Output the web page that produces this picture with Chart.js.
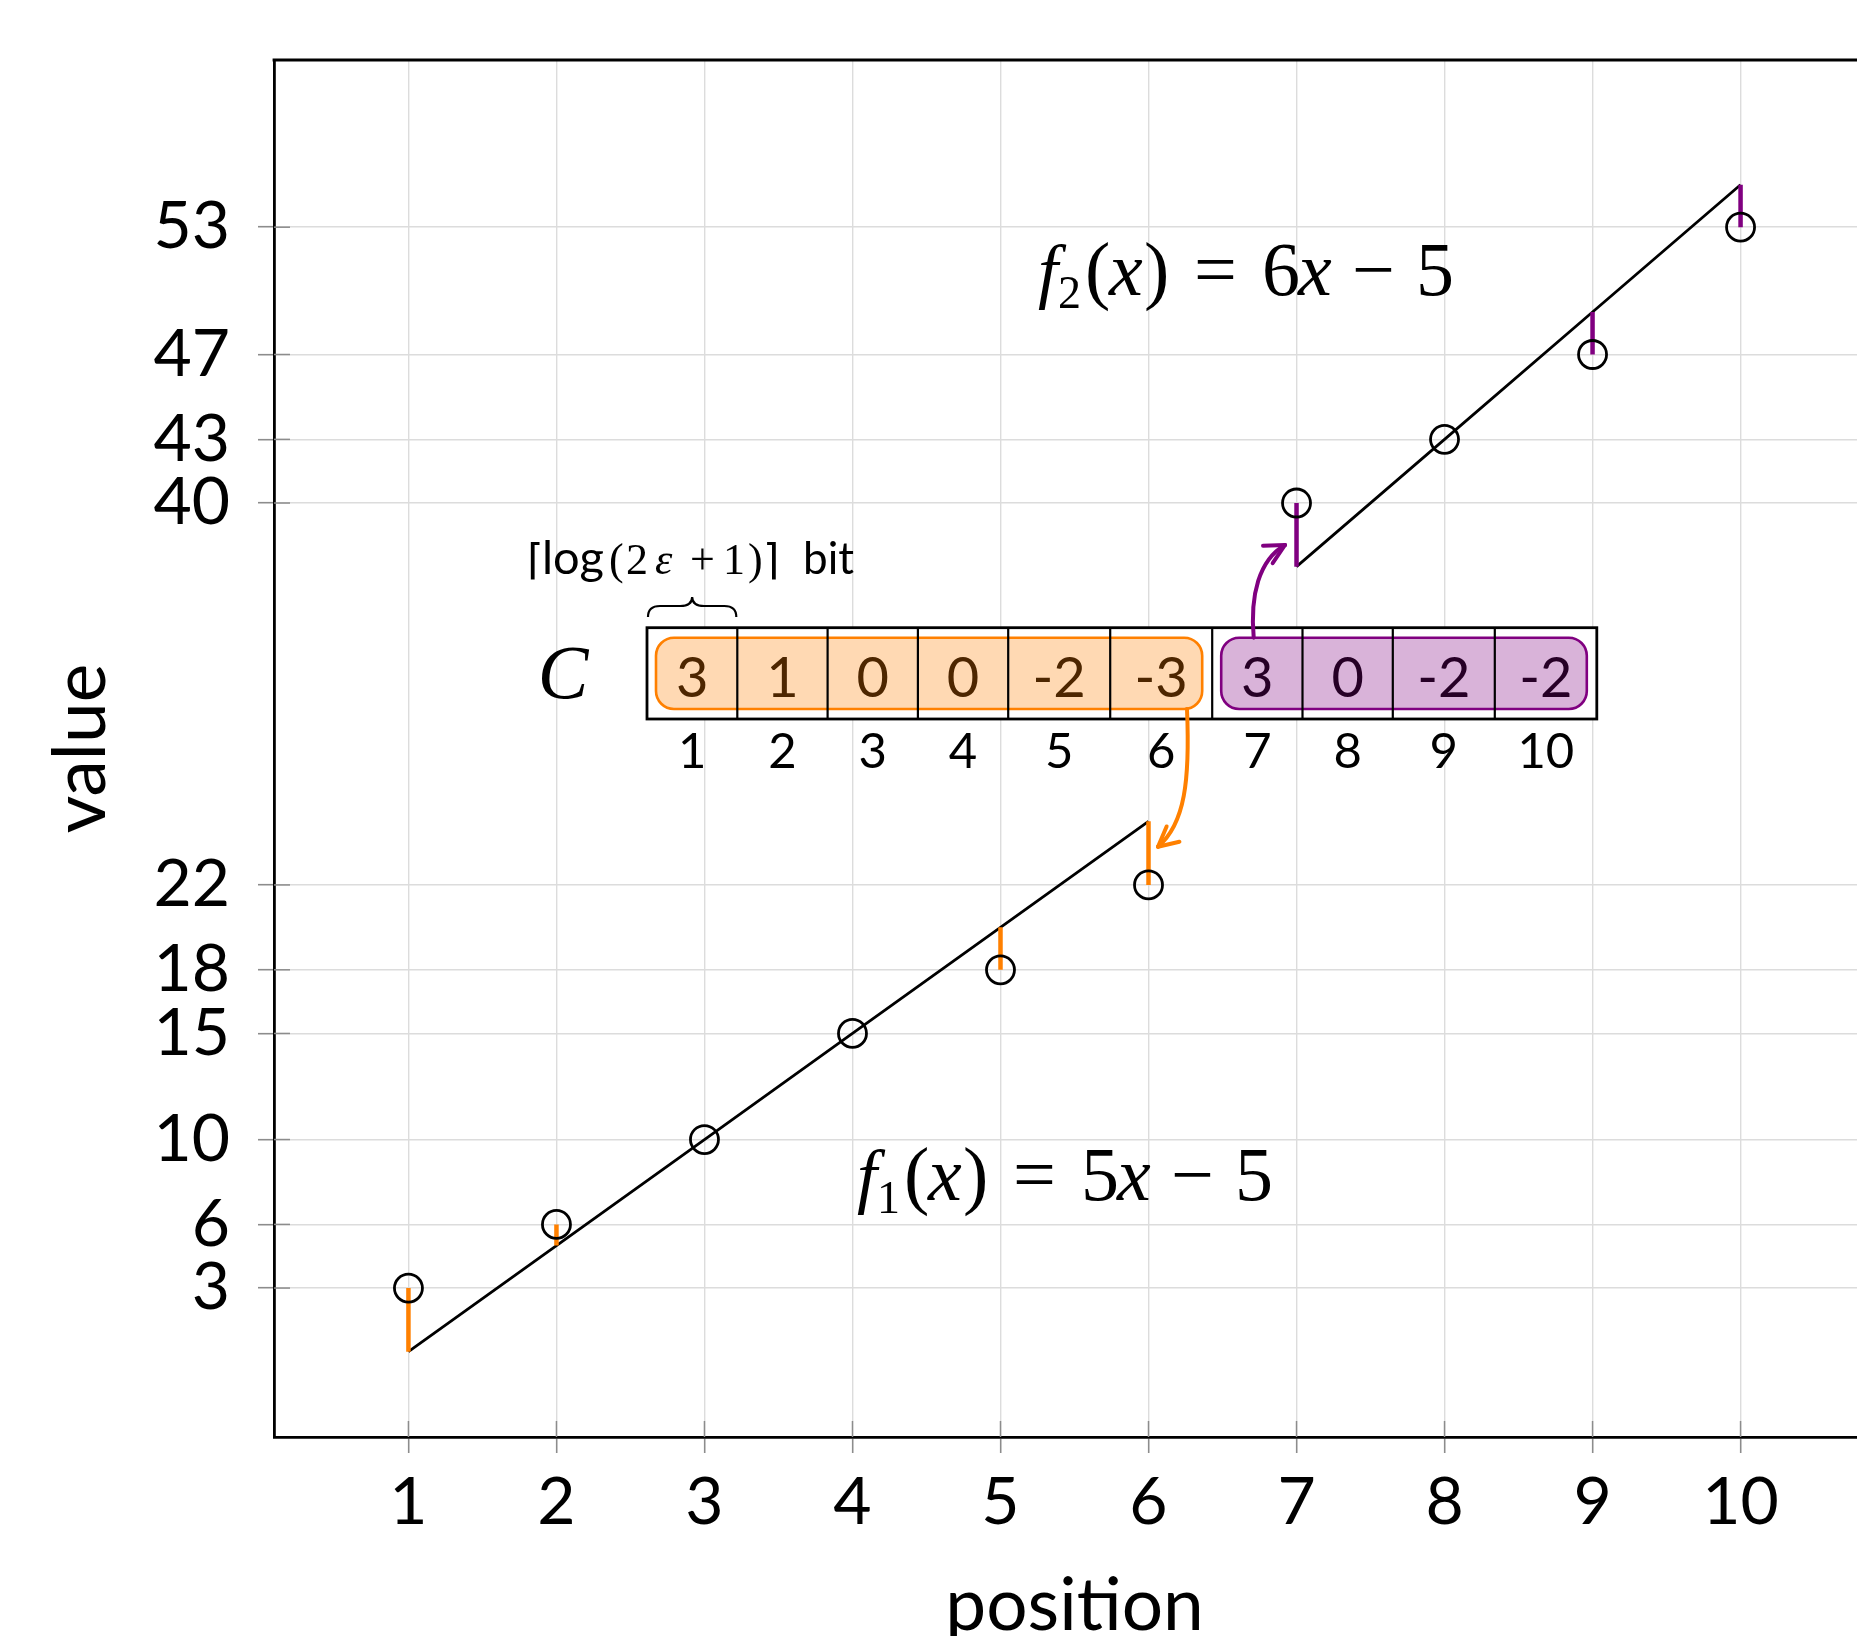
<!DOCTYPE html>
<html>
<head>
<meta charset="utf-8">
<script src="https://cdn.jsdelivr.net/npm/chart.js@4.4.1/dist/chart.umd.min.js"></script>
<style>
  html, body { margin: 0; padding: 0; background: #fff; overflow: hidden; }
  canvas { display: block; }
</style>
</head>
<body>
<canvas id="grafico" width="1900" height="1636"></canvas>
<script>
// Datos
const posiciones = [1, 2, 3, 4, 5, 6, 7, 8, 9, 10];
const valores = [3, 6, 10, 15, 18, 22, 40, 43, 47, 53];
const residuos = [3, 1, 0, 0, -2, -3, 3, 0, -2, -2]; // arreglo C
const segmento = [1, 1, 1, 1, 1, 1, 2, 2, 2, 2];
const ticksX = [1, 2, 3, 4, 5, 6, 7, 8, 9, 10];
const ticksY = [3, 6, 10, 15, 18, 22, 40, 43, 47, 53];
const pendientes = [5, 6];
const ordenadas = [5, 5];

const NARANJA = "#ff8000";
const MORADO = "#800080";
const SERIF = '"Liberation Serif"';

// Recta ajustada: valor - residuo en cada posición del segmento
function datosAjuste(seg) {
  const d = [];
  posiciones.forEach((x, i) => {
    if (segmento[i] === seg) d.push({ x: x, y: valores[i] - residuos[i] });
  });
  return d;
}

// Segmentos verticales del residuo, separados con null
function datosResiduo(seg) {
  const d = [];
  posiciones.forEach((x, i) => {
    if (segmento[i] !== seg) return;
    d.push({ x: x, y: valores[i] }, { x: x, y: valores[i] - residuos[i] }, { x: x, y: null });
  });
  return d;
}

function linea(ctx, x1, y1, x2, y2) {
  ctx.beginPath();
  ctx.moveTo(x1, y1);
  ctx.lineTo(x2, y2);
  ctx.stroke();
}

function rectRedondo(ctx, x, y, w, h, r) {
  ctx.beginPath();
  ctx.moveTo(x + r, y);
  ctx.arcTo(x + w, y, x + w, y + h, r);
  ctx.arcTo(x + w, y + h, x, y + h, r);
  ctx.arcTo(x, y + h, x, y, r);
  ctx.arcTo(x, y, x + w, y, r);
  ctx.closePath();
}

function punta(ctx, tx, ty, ang) {
  const L = 22, a = 0.47;
  [-1, 1].forEach(s => {
    linea(ctx, tx - L * Math.cos(ang + s * a), ty - L * Math.sin(ang + s * a), tx, ty);
  });
}

// f_k(x) = a x − b, dibujado por piezas
function dibujarFuncion(ctx, k, x0, y0) {
  const piezas = [
    { t: "f", f: `italic 72px ${SERIF}`, dx: 13 },
    { t: String(k + 1), f: `46px ${SERIF}`, dx: 33, dy: 13 },
    { t: "(", f: `76px ${SERIF}`, dx: 60 },
    { t: "x", f: `italic 76px ${SERIF}`, dx: 84 },
    { t: ")", f: `76px ${SERIF}`, dx: 119 },
    { t: "=", f: `76px ${SERIF}`, dx: 169 },
    { t: String(pendientes[k]), f: `76px ${SERIF}`, dx: 237 },
    { t: "x", f: `italic 76px ${SERIF}`, dx: 273 },
    { t: "\u2212", f: `76px ${SERIF}`, dx: 327 },
    { t: String(ordenadas[k]), f: `76px ${SERIF}`, dx: 391 }
  ];
  ctx.fillStyle = "#000";
  ctx.textAlign = "left";
  ctx.textBaseline = "alphabetic";
  piezas.forEach(p => {
    ctx.font = p.f;
    ctx.fillText(p.t, x0 + p.dx, y0 + (p.dy || 0));
  });
}

const anotaciones = {
  id: "anotaciones",
  beforeDatasetsDraw(chart) {
    const ctx = chart.ctx, a = chart.chartArea;
    const sx = chart.scales.x, sy = chart.scales.y;
    ctx.save();
    // marcas interiores
    ctx.strokeStyle = "#8c8c8c";
    ctx.lineWidth = 1.5;
    ticksX.forEach(v => { const p = sx.getPixelForValue(v); linea(ctx, p, a.bottom, p, a.bottom - 16); });
    ticksY.forEach(v => { const p = sy.getPixelForValue(v); linea(ctx, a.left, p, a.left + 16, p); });
    // marco superior y derecho
    ctx.strokeStyle = "#000";
    ctx.lineWidth = 2.8;
    linea(ctx, a.left - 1.4, a.top, a.right, a.top);
    linea(ctx, a.right, a.top, a.right, a.bottom);
    ctx.restore();
  },
  afterDraw(chart) {
    const ctx = chart.ctx, a = chart.chartArea;
    ctx.save();

    dibujarFuncion(ctx, 1, 1025, 295);
    dibujarFuncion(ctx, 0, 844, 1200);

    // arreglo C
    const top = 627.7, alto = 91.3;
    const bordes = [647];
    residuos.forEach(r => bordes.push(bordes[bordes.length - 1] + (String(r).length > 1 ? 102 : 90.3)));
    const fin = bordes[bordes.length - 1];
    ctx.fillStyle = "#fff";
    ctx.fillRect(bordes[0], top, fin - bordes[0], alto);

    const grupos = [
      { ini: 0, fin: 5, relleno: "#ffd9b3", trazo: NARANJA, texto: "#4d2600" },
      { ini: 6, fin: 9, relleno: "#d9b3d9", trazo: MORADO, texto: "#260026" }
    ];
    grupos.forEach(g => {
      const x1 = bordes[g.ini] + 9, x2 = bordes[g.fin + 1] - 10;
      rectRedondo(ctx, x1, top + 10, x2 - x1, alto - 20, 18);
      ctx.fillStyle = g.relleno;
      ctx.fill();
      ctx.strokeStyle = g.trazo;
      ctx.lineWidth = 2.6;
      ctx.stroke();
    });

    ctx.strokeStyle = "#000";
    ctx.lineWidth = 2.2;
    for (let i = 1; i < bordes.length - 1; i++) linea(ctx, bordes[i], top, bordes[i], top + alto);
    ctx.lineWidth = 2.8;
    ctx.strokeRect(bordes[0], top, fin - bordes[0], alto);

    ctx.textAlign = "center";
    ctx.textBaseline = "alphabetic";
    residuos.forEach((r, i) => {
      const cx = (bordes[i] + bordes[i + 1]) / 2;
      ctx.font = "56px Lato";
      ctx.fillStyle = i <= 5 ? grupos[0].texto : grupos[1].texto;
      ctx.fillText(String(r), cx, 697);
      ctx.font = "49px Lato";
      ctx.fillStyle = "#000";
      ctx.fillText(String(posiciones[i]), cx, 768.3);
    });

    ctx.font = `italic 76px ${SERIF}`;
    ctx.fillStyle = "#000";
    ctx.fillText("C", 563, 698);

    // llave y etiqueta de bits
    ctx.lineWidth = 2.2;
    ctx.beginPath();
    const b0 = bordes[0] + 1, b1 = bordes[1] - 1, bm = (b0 + b1) / 2;
    ctx.moveTo(b0, 617);
    ctx.quadraticCurveTo(b0, 606, b0 + 12, 606);
    ctx.lineTo(bm - 12, 606);
    ctx.quadraticCurveTo(bm, 606, bm, 597);
    ctx.quadraticCurveTo(bm, 606, bm + 12, 606);
    ctx.lineTo(b1 - 12, 606);
    ctx.quadraticCurveTo(b1, 606, b1, 617);
    ctx.stroke();

    const etiqueta = [
      { t: "\u2308", f: '42px "DejaVu Sans"', x: 527 },
      { t: "log", f: "47px Lato", x: 542 },
      { t: "(", f: `44px ${SERIF}`, x: 609 },
      { t: "2", f: `44px ${SERIF}`, x: 626 },
      { t: "\u03b5", f: `italic 44px ${SERIF}`, x: 655 },
      { t: "+", f: `44px ${SERIF}`, x: 690 },
      { t: "1", f: `44px ${SERIF}`, x: 723 },
      { t: ")", f: `44px ${SERIF}`, x: 748 },
      { t: "\u2309", f: '42px "DejaVu Sans"', x: 763 },
      { t: "bit", f: "44px Lato", x: 803 }
    ];
    ctx.textAlign = "left";
    etiqueta.forEach(p => { ctx.font = p.f; ctx.fillText(p.t, p.x, 574); });

    // flechas
    ctx.lineWidth = 4;
    ctx.lineCap = "round";
    ctx.strokeStyle = NARANJA;
    ctx.beginPath();
    ctx.moveTo(1187, 709);
    ctx.bezierCurveTo(1190, 780, 1185, 824, 1158, 846.7);
    ctx.stroke();
    punta(ctx, 1158, 846.7, 140 * Math.PI / 180);

    ctx.strokeStyle = MORADO;
    ctx.beginPath();
    ctx.moveTo(1253.7, 637.7);
    ctx.bezierCurveTo(1250, 595, 1259, 560, 1285, 545);
    ctx.stroke();
    punta(ctx, 1285, 545, -29 * Math.PI / 180);

    // títulos de ejes
    ctx.fillStyle = "#000";
    ctx.font = "73px Lato";
    ctx.textAlign = "center";
    ctx.fillText("position", (a.left + a.right) / 2, 1630);
    ctx.translate(105, (a.top + a.bottom) / 2);
    ctx.rotate(-Math.PI / 2);
    ctx.fillText("value", 0, 0);
    ctx.restore();
  }
};

const ejeComun = {
  type: "linear",
  grid: { color: "#dcdcdc", lineWidth: 1.4, tickColor: "#8c8c8c", tickWidth: 1.6, tickLength: 16 },
  border: { display: true, color: "#000", width: 2.8 },
  ticks: { color: "#000", font: { family: "Lato", size: 66 }, autoSkip: false, maxRotation: 0 }
};

new Chart(document.getElementById("grafico"), {
  type: "scatter",
  data: {
    datasets: [
      {
        data: posiciones.map((x, i) => ({ x: x, y: valores[i] })),
        showLine: false,
        pointRadius: 14,
        pointBorderWidth: 2.8,
        pointBorderColor: "#000",
        pointBackgroundColor: "rgba(0,0,0,0)"
      },
      { data: datosResiduo(1), showLine: true, spanGaps: false, borderColor: NARANJA, borderWidth: 4.5, pointRadius: 0 },
      { data: datosResiduo(2), showLine: true, spanGaps: false, borderColor: MORADO, borderWidth: 4.5, pointRadius: 0 },
      { data: datosAjuste(1), showLine: true, borderColor: "#000", borderWidth: 2.8, pointRadius: 0 },
      { data: datosAjuste(2), showLine: true, borderColor: "#000", borderWidth: 2.8, pointRadius: 0 }
    ]
  },
  options: {
    responsive: false,
    animation: false,
    events: [],
    layout: { padding: { top: 60, right: 25, left: 0, bottom: 0 } },
    plugins: { legend: { display: false }, tooltip: { enabled: false } },
    scales: {
      x: {
        ...ejeComun,
        min: 0.0917,
        max: 10.9083,
        ticks: { ...ejeComun.ticks, padding: 10 },
        afterBuildTicks: s => { s.ticks = ticksX.map(v => ({ value: v })); },
        afterFit: s => { s.height = 199; s.paddingLeft = 0; s.paddingRight = 0; }
      },
      y: {
        ...ejeComun,
        min: -4.02,
        max: 60.88,
        ticks: { ...ejeComun.ticks, padding: 28 },
        afterBuildTicks: s => { s.ticks = ticksY.map(v => ({ value: v })); },
        afterFit: s => { s.width = 274; s.paddingTop = 0; s.paddingBottom = 0; }
      }
    }
  },
  plugins: [anotaciones]
});
</script>
</body>
</html>
